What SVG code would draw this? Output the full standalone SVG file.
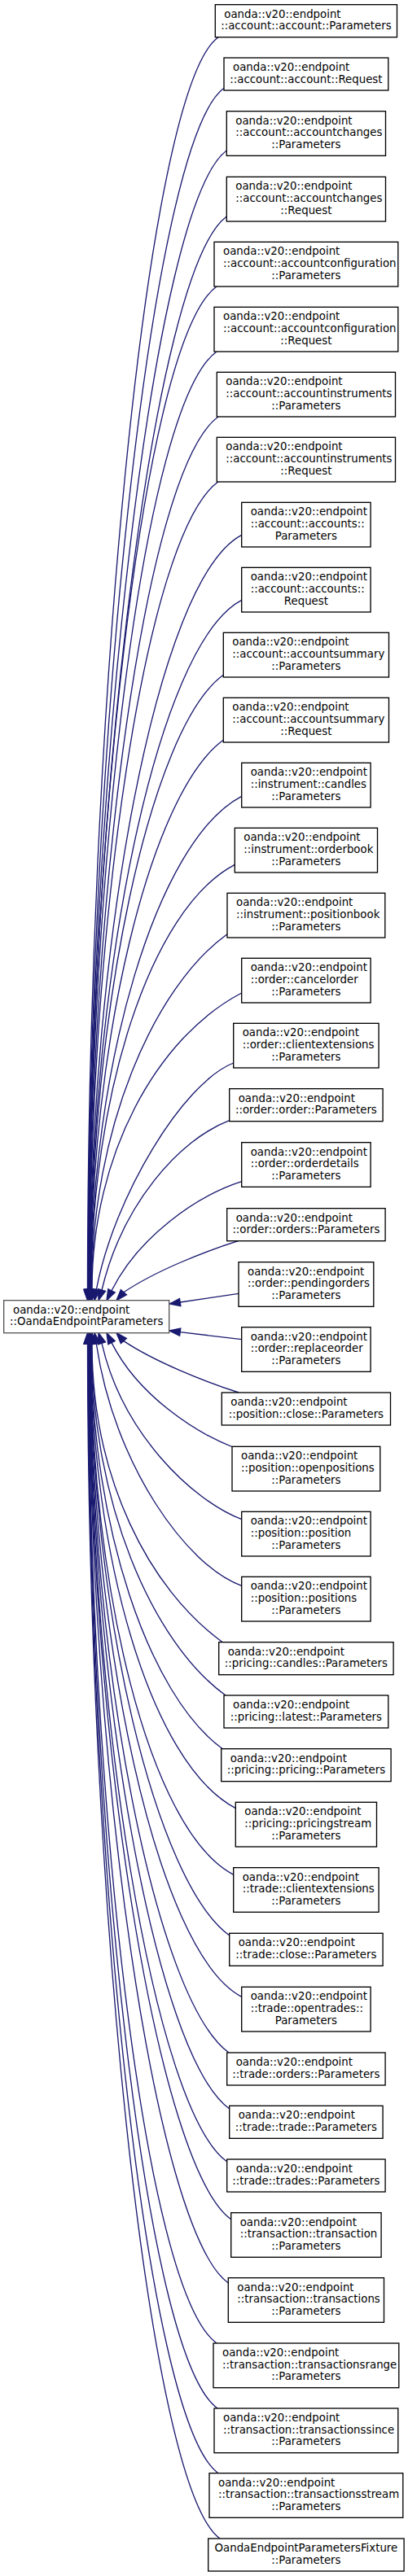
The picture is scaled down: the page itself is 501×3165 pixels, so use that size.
<svg xmlns="http://www.w3.org/2000/svg" width="501" height="3165" viewBox="0 0 501 3165">
<style>
rect{fill:#fff;stroke:#000;stroke-width:1.33}
#base rect{stroke:#555}
text{font-family:"DejaVu Sans","Liberation Sans",sans-serif;font-size:13.33px;fill:#000}
.c{text-anchor:middle}
#edges path{fill:none;stroke:#191970;stroke-width:1.33}
#edges polygon{fill:#191970;stroke:#191970;stroke-width:1.33}
</style>
<rect x="0" y="0" width="501" height="3165" style="fill:#fff;stroke:none"/>
<g id="edges">
<path d="M268,45.7 C178,110.7 107.5,891.9 107.5,1584.3"/><polygon points="107.5,1597.7 102.8,1584.3 112.2,1584.3"/>
<path d="M275,108.3 C185,173.3 108,920.1 108,1584.3"/><polygon points="108,1597.7 103.3,1584.3 112.7,1584.3"/>
<path d="M278.3,185 C188.3,250 108.3,954.6 108.3,1584.3"/><polygon points="108.3,1597.7 103.6,1584.3 113,1584.3"/>
<path d="M278.3,266 C188.3,331 108.7,991.1 108.7,1584.3"/><polygon points="108.7,1597.7 104,1584.3 113.4,1584.3"/>
<path d="M266,352 C176,417 109,1029.8 109,1584.3"/><polygon points="109,1597.7 104.3,1584.3 113.7,1584.3"/>
<path d="M266,432 C176,497 109.3,1065.8 109.3,1584.3"/><polygon points="109.3,1597.7 104.6,1584.3 114,1584.3"/>
<path d="M268,512 C178,577 109.7,1101.8 109.7,1584.3"/><polygon points="109.7,1597.7 105,1584.3 114.4,1584.3"/>
<path d="M268,591.7 C178,656.7 110,1137.6 110,1584.3"/><polygon points="110,1597.7 105.3,1584.3 114.7,1584.3"/>
<path d="M296.7,657.3 C191.7,712.3 110.3,1167.1 110.3,1584.3"/><polygon points="110.3,1597.7 105.6,1584.3 115,1584.3"/>
<path d="M296.7,737.3 C191.7,792.3 110.7,1203.1 110.7,1584.3"/><polygon points="110.7,1597.7 106,1584.3 115.4,1584.3"/>
<path d="M274.3,829.3 C184.3,894.3 111,1244.5 111,1584.3"/><polygon points="111,1597.7 106.3,1584.3 115.7,1584.3"/>
<path d="M274.3,909.3 C184.3,974.3 111.3,1280.5 111.3,1584.3"/><polygon points="111.3,1597.7 106.6,1584.3 116,1584.3"/>
<path d="M296.7,978.3 C191.7,1033.3 111.7,1311.6 111.7,1584.3"/><polygon points="111.7,1597.7 107,1584.3 116.4,1584.3"/>
<path d="M288.3,1062.3 C183.3,1117.3 112,1349.4 112,1584.3"/><polygon points="112,1597.7 107.3,1584.3 116.7,1584.3"/>
<path d="M279,1147.7 C189,1212.7 112.5,1387.8 112.5,1584.3"/><polygon points="112.5,1597.7 107.8,1584.3 117.2,1584.3"/>
<path d="M296.7,1220 C191.7,1275 113,1420.4 113,1584.3"/><polygon points="113,1597.7 108.3,1584.3 117.7,1584.3"/>
<path d="M286.7,1306 C225,1330 140,1470 118.3,1584.6"/><polygon points="116,1597.7 113.7,1583.8 122.9,1585.4"/>
<path d="M281.7,1376.7 C220,1400 150,1480 125,1585"/><polygon points="121,1597.7 120.5,1583.6 129.5,1586.4"/>
<path d="M296.7,1451.7 C240,1470 170,1520 137,1585.8"/><polygon points="131,1597.7 132.8,1583.7 141.2,1587.9"/>
<path d="M293.3,1524.3 C250,1538 190,1562 151.9,1587.8"/><polygon points="143,1597.7 148.4,1584.7 155.4,1590.9"/>
<path d="M293,1589.3 L221.2,1600"/><polygon points="208,1602 220.5,1595.4 221.9,1604.6"/>
<path d="M296.7,1645.7 L221.2,1636.6"/><polygon points="208,1635 221.8,1632 220.6,1641.2"/>
<path d="M293.3,1711 C250,1697 190,1673 151.9,1647.6"/><polygon points="143,1637.7 155.4,1644.5 148.4,1650.7"/>
<path d="M286,1778 C240,1760 170,1715 137,1649.6"/><polygon points="131,1637.7 141.2,1647.5 132.8,1651.7"/>
<path d="M296.7,1866.7 C235,1843 150,1760 125,1650.4"/><polygon points="121,1637.7 129.5,1649 120.5,1651.8"/>
<path d="M296.7,1948.3 C230,1925 140,1800 118.3,1650.8"/><polygon points="116,1637.7 122.9,1650 113.7,1651.6"/>
<path d="M273.3,2017.7 C183.3,1952.7 113,1816 113,1651"/><polygon points="113,1637.7 108.3,1651 117.7,1651"/>
<path d="M277,2083 C187,2018 112.5,1845.4 112.5,1651"/><polygon points="112.5,1637.7 107.8,1651 117.2,1651"/>
<path d="M273.3,2148.7 C183.3,2083.7 112,1875 112,1651"/><polygon points="112,1637.7 107.3,1651 116.7,1651"/>
<path d="M289.3,2221.7 C184.3,2166.7 111.7,1907.8 111.7,1651"/><polygon points="111.7,1637.7 107,1651 116.4,1651"/>
<path d="M286.7,2303.3 C181.7,2248.3 111.3,1944.5 111.3,1651"/><polygon points="111.3,1637.7 106.6,1651 116,1651"/>
<path d="M281.7,2378 C191.7,2313 111,1978.2 111,1651"/><polygon points="111,1637.7 106.3,1651 115.7,1651"/>
<path d="M296.7,2453.3 C191.7,2398.3 110.7,2012 110.7,1651"/><polygon points="110.7,1637.7 106,1651 115.4,1651"/>
<path d="M281,2522 C191,2457 110.3,2043 110.3,1651"/><polygon points="110.3,1637.7 105.6,1651 115,1651"/>
<path d="M281.7,2591 C191.7,2526 110,2074 110,1651"/><polygon points="110,1637.7 105.3,1651 114.7,1651"/>
<path d="M278.7,2656 C188.7,2591 109.7,2103.3 109.7,1651"/><polygon points="109.7,1637.7 105,1651 114.4,1651"/>
<path d="M283.7,2726.7 C193.7,2661.7 109.3,2135.1 109.3,1651"/><polygon points="109.3,1637.7 104.6,1651 114,1651"/>
<path d="M280.3,2805 C190.3,2740 109,2170.3 109,1651"/><polygon points="109,1637.7 104.3,1651 113.7,1651"/>
<path d="M266,2879 C176,2814 108.7,2203.6 108.7,1651"/><polygon points="108.7,1637.7 104,1651 113.4,1651"/>
<path d="M267,2959 C177,2894 108.3,2239.6 108.3,1651"/><polygon points="108.3,1637.7 103.6,1651 113,1651"/>
<path d="M268,3038.7 C178,2973.7 108,2275.5 108,1651"/><polygon points="108,1637.7 103.3,1651 112.7,1651"/>
<path d="M270,3119 C180,3054 107.5,2311.6 107.5,1651"/><polygon points="107.5,1637.7 102.8,1651 112.2,1651"/>
</g>
<g id="base"><rect x="4.67" y="1597.7" width="203" height="40"/><text x="16" y="1613.7">oanda::v20::endpoint</text><text class="c" x="106.2" y="1628.3">::OandaEndpointParameters</text></g>
<g id="n1"><rect x="264.3" y="5.67" width="223.2" height="40"/><text x="275.3" y="21.67">oanda::v20::endpoint</text><text class="c" x="375.9" y="36.33">::account::account::Parameters</text></g>
<g id="n2"><rect x="275" y="71" width="201.8" height="40"/><text x="286" y="87">oanda::v20::endpoint</text><text class="c" x="375.9" y="101.67">::account::account::Request</text></g>
<g id="n3"><rect x="278.3" y="136.67" width="195.2" height="54.67"/><text x="289.3" y="152.67">oanda::v20::endpoint</text><text x="289.3" y="167.33">::account::accountchanges</text><text class="c" x="375.9" y="182">::Parameters</text></g>
<g id="n4"><rect x="278.3" y="217.33" width="195.2" height="54.67"/><text x="289.3" y="233.33">oanda::v20::endpoint</text><text x="289.3" y="248">::account::accountchanges</text><text class="c" x="375.9" y="262.67">::Request</text></g>
<g id="n5"><rect x="263" y="297.33" width="225.8" height="54.67"/><text x="274" y="313.33">oanda::v20::endpoint</text><text x="274" y="328">::account::accountconfiguration</text><text class="c" x="375.9" y="342.67">::Parameters</text></g>
<g id="n6"><rect x="263" y="377.33" width="225.8" height="54.67"/><text x="274" y="393.33">oanda::v20::endpoint</text><text x="274" y="408">::account::accountconfiguration</text><text class="c" x="375.9" y="422.67">::Request</text></g>
<g id="n7"><rect x="266.3" y="457.33" width="219.2" height="54.67"/><text x="277.3" y="473.33">oanda::v20::endpoint</text><text x="277.3" y="488">::account::accountinstruments</text><text class="c" x="375.9" y="502.67">::Parameters</text></g>
<g id="n8"><rect x="266.3" y="537.33" width="219.2" height="54.67"/><text x="277.3" y="553.33">oanda::v20::endpoint</text><text x="277.3" y="568">::account::accountinstruments</text><text class="c" x="375.9" y="582.67">::Request</text></g>
<g id="n9"><rect x="296.7" y="617.33" width="158.4" height="54.67"/><text x="307.7" y="633.33">oanda::v20::endpoint</text><text x="307.7" y="648">::account::accounts::</text><text class="c" x="375.9" y="662.67">Parameters</text></g>
<g id="n10"><rect x="296.7" y="697.33" width="158.4" height="54.67"/><text x="307.7" y="713.33">oanda::v20::endpoint</text><text x="307.7" y="728">::account::accounts::</text><text class="c" x="375.9" y="742.67">Request</text></g>
<g id="n11"><rect x="274.3" y="777.33" width="203.2" height="54.67"/><text x="285.3" y="793.33">oanda::v20::endpoint</text><text x="285.3" y="808">::account::accountsummary</text><text class="c" x="375.9" y="822.67">::Parameters</text></g>
<g id="n12"><rect x="274.3" y="857.33" width="203.2" height="54.67"/><text x="285.3" y="873.33">oanda::v20::endpoint</text><text x="285.3" y="888">::account::accountsummary</text><text class="c" x="375.9" y="902.67">::Request</text></g>
<g id="n13"><rect x="296.7" y="937.33" width="158.4" height="54.67"/><text x="307.7" y="953.33">oanda::v20::endpoint</text><text x="307.7" y="968">::instrument::candles</text><text class="c" x="375.9" y="982.67">::Parameters</text></g>
<g id="n14"><rect x="288.3" y="1017.33" width="175.2" height="54.67"/><text x="299.3" y="1033.33">oanda::v20::endpoint</text><text x="299.3" y="1048">::instrument::orderbook</text><text class="c" x="375.9" y="1062.67">::Parameters</text></g>
<g id="n15"><rect x="279" y="1097.33" width="193.8" height="54.67"/><text x="290" y="1113.33">oanda::v20::endpoint</text><text x="290" y="1128">::instrument::positionbook</text><text class="c" x="375.9" y="1142.67">::Parameters</text></g>
<g id="n16"><rect x="296.7" y="1177.33" width="158.4" height="54.67"/><text x="307.7" y="1193.33">oanda::v20::endpoint</text><text x="307.7" y="1208">::order::cancelorder</text><text class="c" x="375.9" y="1222.67">::Parameters</text></g>
<g id="n17"><rect x="286.7" y="1257.33" width="178.4" height="54.67"/><text x="297.7" y="1273.33">oanda::v20::endpoint</text><text x="297.7" y="1288">::order::clientextensions</text><text class="c" x="375.9" y="1302.67">::Parameters</text></g>
<g id="n18"><rect x="281.7" y="1337.67" width="188.4" height="40"/><text x="292.7" y="1353.67">oanda::v20::endpoint</text><text class="c" x="375.9" y="1368.33">::order::order::Parameters</text></g>
<g id="n19"><rect x="296.7" y="1403.67" width="158.4" height="54.67"/><text x="307.7" y="1419.67">oanda::v20::endpoint</text><text x="307.7" y="1434.33">::order::orderdetails</text><text class="c" x="375.9" y="1449">::Parameters</text></g>
<g id="n20"><rect x="278.7" y="1484.67" width="194.4" height="40"/><text x="289.7" y="1500.67">oanda::v20::endpoint</text><text class="c" x="375.9" y="1515.33">::order::orders::Parameters</text></g>
<g id="n21"><rect x="293" y="1550.67" width="165.8" height="54.67"/><text x="304" y="1566.67">oanda::v20::endpoint</text><text x="304" y="1581.33">::order::pendingorders</text><text class="c" x="375.9" y="1596">::Parameters</text></g>
<g id="n22"><rect x="296.7" y="1630.67" width="158.4" height="54.67"/><text x="307.7" y="1646.67">oanda::v20::endpoint</text><text x="307.7" y="1661.33">::order::replaceorder</text><text class="c" x="375.9" y="1676">::Parameters</text></g>
<g id="n23"><rect x="272.3" y="1711" width="207.2" height="40"/><text x="283.3" y="1727">oanda::v20::endpoint</text><text class="c" x="375.9" y="1741.67">::position::close::Parameters</text></g>
<g id="n24"><rect x="285" y="1777.33" width="181.8" height="54.67"/><text x="296" y="1793.33">oanda::v20::endpoint</text><text x="296" y="1808">::position::openpositions</text><text class="c" x="375.9" y="1822.67">::Parameters</text></g>
<g id="n25"><rect x="296.7" y="1857.33" width="158.4" height="54.67"/><text x="307.7" y="1873.33">oanda::v20::endpoint</text><text x="307.7" y="1888">::position::position</text><text class="c" x="375.9" y="1902.67">::Parameters</text></g>
<g id="n26"><rect x="296.7" y="1937.33" width="158.4" height="54.67"/><text x="307.7" y="1953.33">oanda::v20::endpoint</text><text x="307.7" y="1968">::position::positions</text><text class="c" x="375.9" y="1982.67">::Parameters</text></g>
<g id="n27"><rect x="268.7" y="2017.67" width="214.4" height="40"/><text x="279.7" y="2033.67">oanda::v20::endpoint</text><text class="c" x="375.9" y="2048.33">::pricing::candles::Parameters</text></g>
<g id="n28"><rect x="275" y="2083" width="201.8" height="40"/><text x="286" y="2099">oanda::v20::endpoint</text><text class="c" x="375.9" y="2113.67">::pricing::latest::Parameters</text></g>
<g id="n29"><rect x="271.7" y="2148.67" width="208.4" height="40"/><text x="282.7" y="2164.67">oanda::v20::endpoint</text><text class="c" x="375.9" y="2179.33">::pricing::pricing::Parameters</text></g>
<g id="n30"><rect x="289.3" y="2214.33" width="173.2" height="54.67"/><text x="300.3" y="2230.33">oanda::v20::endpoint</text><text x="300.3" y="2245">::pricing::pricingstream</text><text class="c" x="375.9" y="2259.67">::Parameters</text></g>
<g id="n31"><rect x="286.7" y="2294.67" width="178.4" height="54.67"/><text x="297.7" y="2310.67">oanda::v20::endpoint</text><text x="297.7" y="2325.33">::trade::clientextensions</text><text class="c" x="375.9" y="2340">::Parameters</text></g>
<g id="n32"><rect x="281.7" y="2375.33" width="188.4" height="40"/><text x="292.7" y="2391.33">oanda::v20::endpoint</text><text class="c" x="375.9" y="2406">::trade::close::Parameters</text></g>
<g id="n33"><rect x="296.7" y="2441.33" width="158.4" height="54.67"/><text x="307.7" y="2457.33">oanda::v20::endpoint</text><text x="307.7" y="2472">::trade::opentrades::</text><text class="c" x="375.9" y="2486.67">Parameters</text></g>
<g id="n34"><rect x="278.7" y="2522" width="194.4" height="40"/><text x="289.7" y="2538">oanda::v20::endpoint</text><text class="c" x="375.9" y="2552.67">::trade::orders::Parameters</text></g>
<g id="n35"><rect x="281.7" y="2587.33" width="188.4" height="40"/><text x="292.7" y="2603.33">oanda::v20::endpoint</text><text class="c" x="375.9" y="2618">::trade::trade::Parameters</text></g>
<g id="n36"><rect x="278.7" y="2653" width="194.4" height="40"/><text x="289.7" y="2669">oanda::v20::endpoint</text><text class="c" x="375.9" y="2683.67">::trade::trades::Parameters</text></g>
<g id="n37"><rect x="283.7" y="2718.67" width="184.4" height="54.67"/><text x="294.7" y="2734.67">oanda::v20::endpoint</text><text x="294.7" y="2749.33">::transaction::transaction</text><text class="c" x="375.9" y="2764">::Parameters</text></g>
<g id="n38"><rect x="280.3" y="2798.67" width="191.2" height="54.67"/><text x="291.3" y="2814.67">oanda::v20::endpoint</text><text x="291.3" y="2829.33">::transaction::transactions</text><text class="c" x="375.9" y="2844">::Parameters</text></g>
<g id="n39"><rect x="262" y="2879" width="227.8" height="54.67"/><text x="273" y="2895">oanda::v20::endpoint</text><text x="273" y="2909.67">::transaction::transactionsrange</text><text class="c" x="375.9" y="2924.33">::Parameters</text></g>
<g id="n40"><rect x="263" y="2959" width="225.8" height="54.67"/><text x="274" y="2975">oanda::v20::endpoint</text><text x="274" y="2989.67">::transaction::transactionssince</text><text class="c" x="375.9" y="3004.33">::Parameters</text></g>
<g id="n41"><rect x="257" y="3038.67" width="237.8" height="54.67"/><text x="268" y="3054.67">oanda::v20::endpoint</text><text x="268" y="3069.33">::transaction::transactionsstream</text><text class="c" x="375.9" y="3084">::Parameters</text></g>
<g id="n42"><rect x="255.7" y="3119" width="240.4" height="40"/><text class="c" x="375.9" y="3135">OandaEndpointParametersFixture</text><text class="c" x="375.9" y="3149.67">::Parameters</text></g>
</svg>
